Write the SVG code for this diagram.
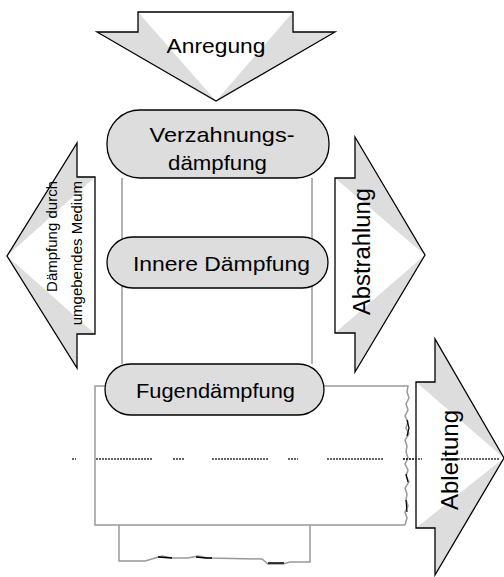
<svg xmlns="http://www.w3.org/2000/svg" width="504" height="577" viewBox="0 0 504 577">
<style>
.arr{fill:#dddddd;stroke:none}
.hl{fill:#ffffff;stroke:none}
.out{fill:none;stroke:#000;stroke-width:1.3;stroke-linejoin:miter}
.node{fill:#dddddd;stroke:#000;stroke-width:1.3}
.gl{fill:none;stroke:#999;stroke-width:1.5}
.dash{fill:none;stroke:#333;stroke-width:1.3;stroke-dasharray:2 1}
.t{font-family:"Liberation Sans",Arial,sans-serif;fill:#000}
</style>
<rect x="0" y="0" width="504" height="577" fill="#fff"/>
<g id="connectors">
<line class="gl" x1="122" y1="178" x2="122" y2="364"/>
<line class="gl" x1="312" y1="178" x2="312" y2="364"/>
<path class="gl" d="M105,386 L95,386 L95,525 L405,525"/>
<path class="gl" d="M324,386 L408,386 L407,392 L409,398 L406,404 L408,410 L405,416 L408,422 L406,428 L409,434 L405,440 L407,446 L406,452 L408,458 L405,464 L408,470 L406,476 L409,482 L405,488 L407,494 L406,500 L408,506 L405,512 L407,518 L405,525"/>
<path d="M407,420 L409,428 L407,436 M406,474 L408,482 M406,500 L407,512" fill="none" stroke="#000" stroke-width="1.2"/>
<path class="gl" d="M119,525 L119,561 L145,561 L162,556 L172,558 L188,558 L198,556 L208,558 L262,559 L268,564 L283,564 L290,562 L310,562 L310,525"/>
<path d="M158,557 L172,558 M196,557 L206,558 L212,558 M268,563 L284,563" fill="none" stroke="#000" stroke-width="1.6"/>
<g>
<line class="dash" x1="72" y1="459" x2="76" y2="459"/>
<line class="dash" x1="96" y1="459" x2="153" y2="459"/>
<line class="dash" x1="173" y1="459" x2="185" y2="459"/>
<line class="dash" x1="212" y1="459" x2="269" y2="459"/>
<line class="dash" x1="288" y1="459" x2="298" y2="459"/>
<line class="dash" x1="327" y1="459" x2="383" y2="459"/>
<line class="dash" x1="403" y1="459" x2="422" y2="459"/>
</g>
</g>
<g id="anregung">
<path class="arr" d="M138,12 L293,12 L293,32 L335,32 L216,101 L97,32 L138,32 Z"/>
<path class="hl" d="M138,12 L293,12 L216,101 Z"/>
<path class="out" d="M138,12 L293,12 L293,32 L335,32 L216,101 L97,32 L138,32 Z"/>
<text class="t" x="216" y="53" font-size="21" text-anchor="middle" textLength="99" lengthAdjust="spacingAndGlyphs">Anregung</text>
</g>
<g id="medium">
<path class="arr" d="M95,177 L95,334 L77,334 L77,368 L7,256 L77,143 L77,177 Z"/>
<path class="hl" d="M95,177 L95,334 L7,256 Z"/>
<path class="out" d="M95,177 L95,334 L77,334 L77,368 L7,256 L77,143 L77,177 Z"/>
<text class="t" transform="translate(57,181) rotate(-90)" font-size="15" text-anchor="end">Dämpfung durch</text>
<text class="t" transform="translate(82,181) rotate(-90)" font-size="15" text-anchor="end">umgebendes Medium</text>
</g>
<g id="abstrahlung">
<path class="arr" d="M335,178 L355,178 L355,137 L425,255 L355,372 L355,333 L335,333 Z"/>
<path class="hl" d="M335,178 L335,333 L425,255 Z"/>
<path class="out" d="M335,178 L355,178 L355,137 L425,255 L355,372 L355,333 L335,333 Z"/>
<text class="t" transform="translate(370,251.5) rotate(-90)" font-size="23" text-anchor="middle" textLength="127" lengthAdjust="spacingAndGlyphs">Abstrahlung</text>
</g>
<g id="ableitung">
<path class="arr" d="M416,382 L435,382 L435,339 L504,458 L435,575 L435,528 L416,528 Z"/>
<path class="hl" d="M416,382 L416,528 L504,458 Z"/>
<path class="out" d="M416,382 L435,382 L435,339 L504,458 L435,575 L435,528 L416,528 Z"/>
<line class="dash" x1="403" y1="459" x2="422" y2="459"/>
<line class="dash" x1="443" y1="459" x2="500" y2="459"/>
<text class="t" transform="translate(458,460) rotate(-90)" font-size="24" text-anchor="middle" textLength="100" lengthAdjust="spacingAndGlyphs">Ableitung</text>
</g>
<g id="verzahnung">
<rect class="node" x="107" y="110" width="222" height="68" rx="33" ry="33"/>
<text class="t" x="222" y="142" font-size="21" text-anchor="middle" textLength="145" lengthAdjust="spacingAndGlyphs">Verzahnungs-</text>
<text class="t" x="217.5" y="170" font-size="21" text-anchor="middle" textLength="99" lengthAdjust="spacingAndGlyphs">dämpfung</text>
</g>
<g id="innere">
<rect class="node" x="107" y="237" width="221" height="51" rx="25.5" ry="25.5"/>
<text class="t" x="221.5" y="271" font-size="21" text-anchor="middle" textLength="177" lengthAdjust="spacingAndGlyphs">Innere Dämpfung</text>
</g>
<g id="fugen">
<rect class="node" x="105" y="364" width="219" height="51" rx="25.5" ry="25.5"/>
<text class="t" x="215.5" y="398" font-size="21" text-anchor="middle" textLength="159" lengthAdjust="spacingAndGlyphs">Fugendämpfung</text>
</g>
</svg>
